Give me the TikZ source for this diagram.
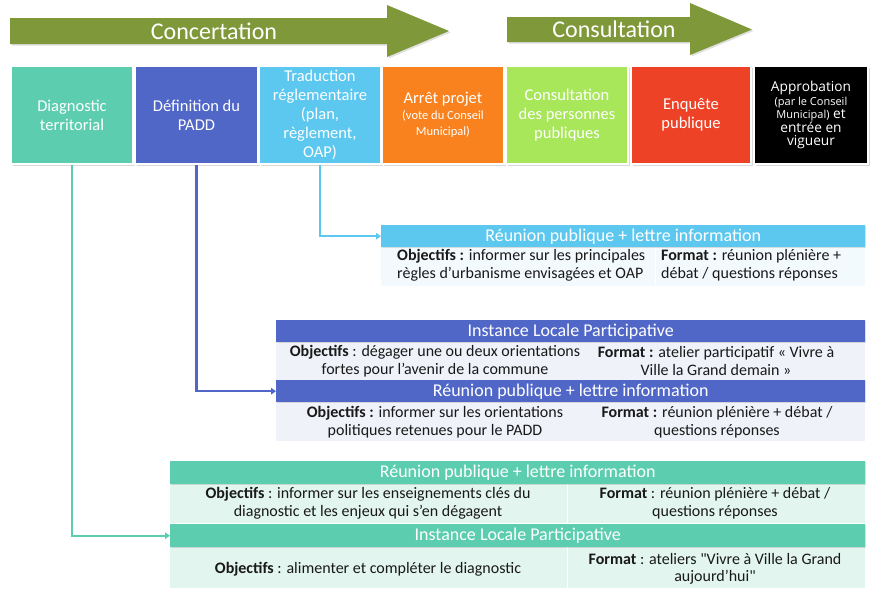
\documentclass[tikz,border=0pt]{standalone}
\usepackage{fontspec}
\setmainfont{Carlito}
\newfontfamily\opensans{Open Sans}
\usetikzlibrary{arrows.meta,shadows}
\definecolor{cteal}{RGB}{92,206,175}
\definecolor{cblue}{RGB}{80,103,200}
\definecolor{clblue}{RGB}{92,200,240}
\definecolor{corange}{RGB}{249,130,30}
\definecolor{clime}{RGB}{168,230,90}
\definecolor{cred}{RGB}{238,66,38}
\definecolor{colive}{RGB}{127,153,58}
\definecolor{bodyA}{RGB}{243,250,253}
\definecolor{bodyB}{RGB}{240,242,250}
\definecolor{bodyC}{RGB}{226,245,239}
\definecolor{txt}{RGB}{25,25,25}
\newcommand\smallvote{\fontsize{12.5}{15}\selectfont}
\newcommand\smallappro{\fontsize{11}{13.5}\selectfont}
\newcommand\straightquote{\XeTeXglyph\XeTeXcharglyph"22\relax}
\tikzset{
  bigarrow/.style={fill=colive, drop shadow={shadow xshift=1.5pt, shadow yshift=-1.5pt, opacity=0.25}},
  arrowlabel/.style={text=white, font=\fontsize{24}{26}\selectfont},
  stepbox/.style={draw=white, line width=2pt, text=white, align=center, inner sep=2pt,
    minimum height=98pt, drop shadow={shadow xshift=1.5pt, shadow yshift=-1.5pt, opacity=0.3},
    font=\fontsize{16.5}{19}\selectfont},
  hdr/.style={anchor=north west, text=white, inner sep=0pt, font=\fontsize{18}{20}\selectfont,
    drop shadow={shadow xshift=1pt, shadow yshift=-1.2pt, opacity=0.25}},
  bodybox/.style={anchor=north west, inner sep=0pt},
  btxt/.style={text=txt, inner sep=0pt, font=\fontsize{16}{17.5}\selectfont},
  conn/.style={line width=2.2pt, -{Triangle[width=6.5pt,length=5pt]}},
  divider/.style={draw=white, line width=1pt}
}
\begin{document}
\begin{tikzpicture}[x=1pt,y=-1pt]
\useasboundingbox (0,0) rectangle (871,590);
% top arrows
\fill[bigarrow] (10,18) -- (387,18) -- (387,5) -- (449,31) -- (387,57) -- (387,44) -- (10,44) -- cycle;
\node[arrowlabel] (concert) at (214,31) {Concertation};
\fill[bigarrow] (507,17) -- (690,17) -- (690,3) -- (752,29.5) -- (690,55) -- (690,42) -- (507,42) -- cycle;
\node[arrowlabel] (consult) at (614,29) {Consultation};
% phase boxes
\node[stepbox, fill=cteal, minimum width=122pt] (b1) at (72,115) {Diagnostic\\territorial};
\node[stepbox, fill=cblue, minimum width=123pt] (b2) at (196.5,115) {Définition du\\PADD};
\node[stepbox, fill=clblue, minimum width=122pt] (b3) at (320,115) {Traduction\\réglementaire\\(plan,\\règlement,\\OAP)};
\node[stepbox, fill=corange, minimum width=122pt] (b4) at (443,115) {Arrêt projet\\[-3pt]{\smallvote (vote du Conseil}\\[-3pt]{\smallvote Municipal)}};
\node[stepbox, fill=clime, minimum width=122pt] (b5) at (567,115) {Consultation\\des personnes\\publiques};
\node[stepbox, fill=cred, minimum width=120pt] (b6) at (691,115) {Enquête\\publique};
\node[stepbox, fill=black, minimum width=114pt, font=\opensans\fontsize{13.7}{13.5}\selectfont] (b7) at (811,115) {Approbation\\{\smallappro (par le Conseil}\\{\smallappro Municipal)} et\\entrée en\\vigueur};
% panel 1 (light blue)
\node[bodybox, fill=bodyA, minimum width=484pt, minimum height=39pt] (p1) at (381,247) {};
\draw[divider] (655,247) -- (655,286);
\node[hdr, fill=clblue, minimum width=484pt, minimum height=22pt] (h1) at (381,225) {Réunion publique + lettre information};
\node[btxt, anchor=west, align=left] (p1l) at (397,265) {\textbf{Objectifs :} informer sur les principales\\règles d’urbanisme envisagées et OAP};
\node[btxt, anchor=west, align=left] (p1r) at (661,265) {\textbf{Format :} réunion plénière +\\débat / questions réponses};
% panel 2 (blue)
\node[bodybox, fill=bodyB, minimum width=589pt, minimum height=38pt] (p2) at (276,342) {};
\node[bodybox, fill=bodyB, minimum width=589pt, minimum height=39pt] (p3) at (276,402) {};
\node[hdr, fill=cblue, minimum width=589pt, minimum height=22pt] (h2) at (276,320) {Instance Locale Participative};
\node[hdr, fill=cblue, minimum width=589pt, minimum height=22pt] (h3) at (276,380) {Réunion publique + lettre information};
\node[btxt, align=center] (p2l) at (435,361) {\textbf{Objectifs} : dégager une ou deux orientations\\fortes pour l’avenir de la commune};
\node[btxt, align=center] (p2r) at (716,361) {\textbf{Format :} atelier participatif « Vivre à\\Ville la Grand demain »};
\node[btxt, align=center] (p3l) at (435,422) {\textbf{Objectifs :} informer sur les orientations\\politiques retenues pour le PADD};
\node[btxt, align=center] (p3r) at (717,422) {\textbf{Format :} réunion plénière + débat /\\questions réponses};
% panel 3 (teal)
\node[bodybox, fill=bodyC, minimum width=695pt, minimum height=39pt] (p4) at (170,484) {};
\node[bodybox, fill=bodyC, minimum width=695pt, minimum height=41pt] (p5) at (170,547) {};
\draw[divider] (567,484) -- (567,523);
\draw[divider] (567,547) -- (567,588);
\node[hdr, fill=cteal, minimum width=695pt, minimum height=23pt] (h4) at (170,461) {Réunion publique + lettre information};
\node[hdr, fill=cteal, minimum width=695pt, minimum height=23pt] (h5) at (170,524) {Instance Locale Participative};
\node[btxt, align=center] (p4l) at (368,503) {\textbf{Objectifs} : informer sur les enseignements clés du\\diagnostic et les enjeux qui s’en dégagent};
\node[btxt, align=center] (p4r) at (715,503) {\textbf{Format} : réunion plénière + débat /\\questions réponses};
\node[btxt, align=center] (p5l) at (368,569) {\textbf{Objectifs} : alimenter et compléter le diagnostic};
\node[btxt, align=center] (p5r) at (715,569) {\textbf{Format} : ateliers \straightquote Vivre à Ville la Grand\\aujourd’hui\straightquote};
% connectors
\draw[conn, clblue] (b3.south) |- (h1.west);
\draw[conn, cblue] (b2.south) |- (h3.west);
\draw[conn, cteal] (b1.south) |- (h5.west);
\end{tikzpicture}
\end{document}
